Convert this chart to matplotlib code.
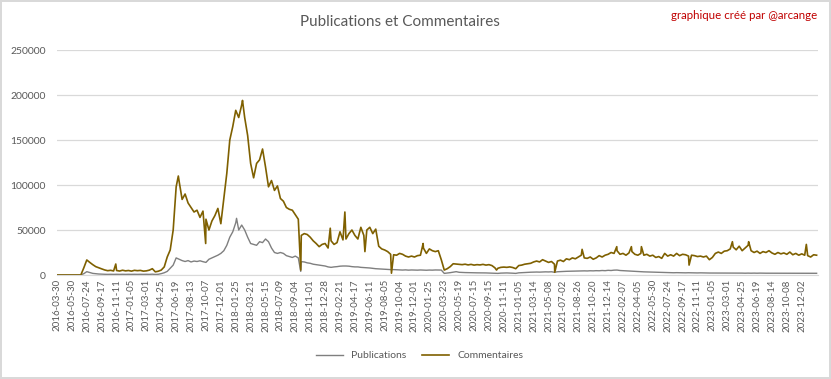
import matplotlib
matplotlib.use("Agg")
import matplotlib.pyplot as plt
import numpy as np

# libellés de l'axe des x (un tous les 55 jours de données)
etiquettes = [
    "2016-03-30", "2016-05-30", "2016-07-24", "2016-09-17", "2016-11-11",
    "2017-01-05", "2017-03-01", "2017-04-25", "2017-06-19", "2017-08-13", "2017-10-07", "2017-12-01",
    "2018-01-25", "2018-03-21", "2018-05-15", "2018-07-09", "2018-09-04", "2018-11-01", "2018-12-28",
    "2019-02-21", "2019-04-17", "2019-06-11", "2019-08-05", "2019-10-04", "2019-12-01",
    "2020-01-25", "2020-03-23", "2020-05-19", "2020-07-15", "2020-09-15", "2020-11-11",
    "2021-01-05", "2021-03-14", "2021-05-08", "2021-07-02", "2021-08-26", "2021-10-20", "2021-12-14",
    "2022-02-07", "2022-04-05", "2022-05-30", "2022-07-24", "2022-09-17", "2022-11-11",
    "2023-01-05", "2023-03-01", "2023-04-25", "2023-06-19", "2023-08-14", "2023-10-08", "2023-12-02",
]
pas_etiquette = 55
pas = 11  # un point relevé tous les 11 jours

commentaires = [
    0, 0, 0, 0, 0,
    0, 0, 0, 0, 8000,
    16700, 14000, 11500, 9300, 8000,
    6800, 5600, 4800, 5200, 4500,
    5000, 4400, 5300, 4600, 5000,
    4300, 5200, 4800, 5100, 4300,
    4600, 5400, 7000, 3500, 4200,
    5500, 9000, 20000, 27800, 50000,
    98000, 104000, 84000, 90000, 80000,
    75000, 70000, 72000, 64000, 71000,
    62000, 50000, 60000, 66000, 74000,
    57000, 85000, 113000, 150000, 165000,
    183000, 175000, 189000, 175000, 155000,
    124000, 108000, 124000, 128000, 140000,
    120000, 98000, 105000, 94000, 99000,
    85000, 82000, 75000, 73000, 72000,
    67000, 62000, 44000, 46000, 45000,
    42000, 38000, 35000, 31500, 34000,
    35000, 30000, 38000, 34000, 36000,
    48000, 39000, 40000, 46000, 50000,
    44000, 40000, 53000, 44000, 50000,
    53000, 46000, 51000, 32000, 29000,
    27800, 26000, 23000, 22500, 22000,
    24000, 23000, 21000, 20000, 21000,
    20000, 21500, 22000, 30000, 24000,
    29000, 27000, 26000, 27000, 17000,
    5500, 7000, 9300, 12500, 12200,
    12000, 11500, 12000, 11200, 11800,
    11000, 11500, 11200, 11800, 11000,
    11500, 10500, 8000, 7500, 8500,
    8800, 8500, 9000, 8300, 7000,
    10500, 11000, 12000, 12500, 13000,
    14500, 15500, 14500, 17000, 15500,
    14000, 15000, 12000, 15500, 16500,
    15000, 18000, 17000, 19000, 18000,
    20000, 22000, 19000, 18500, 20000,
    17500, 19000, 21500, 20000, 22000,
    23000, 25000, 24000, 27000, 23000,
    24000, 22000, 24500, 26000, 23000,
    22000, 24000, 22000, 23000, 21000,
    22000, 19500, 20500, 18500, 24000,
    21000, 22500, 21000, 24000, 21500,
    23000, 22500, 21000, 22000, 21500,
    20500, 21000, 20000, 21000, 17000,
    19500, 24000, 25500, 24000, 26500,
    27000, 29000, 31000, 28000, 32000,
    27000, 30000, 33000, 27000, 25000,
    26500, 24000, 26000, 25000, 27000,
    24500, 23000, 25000, 23500, 24500,
    23000, 25500, 22500, 24000, 22000,
    23500, 22000, 21500, 20000, 22500, 22000,
]

publications = [
    0, 0, 0, 0, 0,
    0, 0, 0, 0, 1500,
    3700, 2800, 1800, 1400, 1100,
    900, 800, 700, 800, 700,
    800, 700, 800, 700, 800,
    700, 800, 700, 800, 700,
    800, 700, 900, 600, 800,
    1500, 2500, 4000, 7500, 11000,
    19000, 17500, 16000, 15000, 16000,
    14500, 15500, 15000, 15800, 14800,
    14000, 17500, 19000, 20500, 22000,
    24000, 27000, 33000, 42000, 48000,
    58000, 50000, 55500, 50000, 42000,
    35000, 34000, 33000, 37000, 36000,
    40000, 37000, 30000, 25000, 24000,
    25000, 24000, 21500, 20500, 19500,
    21000, 19000, 14800, 14500, 13500,
    13000, 12000, 11500, 11000, 10500,
    10000, 9000, 8500, 9000, 9300,
    9800, 10000, 10000, 9800, 9300,
    9000, 9000, 8500, 8300, 8000,
    7800, 7400, 7000, 6800, 6700,
    6500, 6300, 6000, 6000, 5800,
    5600, 5500, 5700, 5400, 5600,
    5500, 5400, 5600, 5500, 5300,
    5500, 5400, 5600, 5500, 5500,
    1800, 2200, 2600, 3200, 3700,
    3000, 2800, 2700, 2600, 2600,
    2500, 2400, 2400, 2300, 2300,
    2200, 2200, 2000, 1800, 2100,
    2200, 2300, 2200, 2000, 1800,
    2400, 2600, 2800, 3000, 3100,
    3200, 3300, 3200, 3400, 3500,
    3400, 3600, 3000, 3600, 3800,
    4000, 4100, 4200, 4300, 4400,
    4400, 4500, 4600, 4500, 4700,
    4600, 4800, 4700, 5000, 4800,
    5200, 5000, 5400, 5500, 5000,
    4800, 4600, 4400, 4200, 4000,
    3800, 3700, 3500, 3400, 3200,
    3100, 3000, 2900, 2800, 2700,
    2600, 2600, 2500, 2600, 2500,
    2500, 2400, 2500, 2400, 2400,
    2300, 2400, 2300, 2300, 2200,
    2200, 2300, 2200, 2200, 2100,
    2200, 2100, 2100, 2200, 2100,
    2100, 2000, 2100, 2000, 2100,
    2000, 2100, 2000, 2000, 2000,
    2000, 1900, 2000, 2000, 1900,
    2000, 1900, 1900, 2000, 1900,
    1900, 2000, 1900, 1900, 2000, 1900,
]

# pics et creux d'un jour (jour, valeur)
pics_comm_jours = [217, 448, 549, 685, 900, 1009, 1063, 1137, 1235, 1352,
                   1623, 1838, 1939, 2067, 2121, 2158, 2334, 2494, 2554, 2767]
pics_comm_vals = [12200, 110000, 35000, 194000, 5500, 52000, 70000, 26000, 2000, 35000,
                  5500, 3000, 28500, 31500, 31500, 31500, 11000, 37000, 37000, 34000]
pics_pub_jours = [663, 900]
pics_pub_vals = [63000, 4000]


def serie(valeurs, pics_j, pics_v):
    x = np.concatenate([np.arange(len(valeurs)) * pas, pics_j])
    y = np.concatenate([valeurs, pics_v])
    ordre = np.argsort(x, kind="stable")
    return x[ordre], y[ordre]


gris_txt = "#595959"
fig = plt.figure(figsize=(8.31, 3.79), dpi=100)
fig.patch.set_edgecolor("#D9D9D9")
fig.patch.set_linewidth(1.5)
plt.rcParams["font.family"] = ["Lato", "DejaVu Sans"]

ax = fig.add_axes([0.0686, 0.2744, 0.9154, 0.5936])

xp, yp = serie(publications, pics_pub_jours, pics_pub_vals)
xc, yc = serie(commentaires, pics_comm_jours, pics_comm_vals)
ax.plot(xp, yp, color="#7F7F7F", lw=1.0, label="Publications")
ax.plot(xc, yc, color="#7F6000", lw=1.2, label="Commentaires")

ax.set_ylim(0, 250000)
ax.set_yticks(np.arange(0, 250001, 50000))
ax.set_xlim(0, 2809)
ax.set_xticks(np.arange(len(etiquettes)) * pas_etiquette)
ax.set_xticklabels(etiquettes, rotation=90, fontsize=7, color=gris_txt)
ax.tick_params(axis="y", labelsize=7.5, labelcolor=gris_txt, length=0, pad=8)
ax.tick_params(axis="x", length=0, pad=3)
ax.grid(axis="y", color="#D9D9D9", lw=0.9)
ax.set_axisbelow(True)
for s in ["top", "right", "left"]:
    ax.spines[s].set_visible(False)
ax.spines["bottom"].set_color("#D9D9D9")

fig.text(0.481, 0.942, "Publications et Commentaires", ha="center", va="center",
         fontsize=11, color=gris_txt)
fig.text(0.984, 0.958, "graphique créé par @arcange", ha="right", va="center",
         fontsize=8.3, color="#C00000")

fig.legend(loc="center", bbox_to_anchor=(0.505, 0.062), ncol=2, frameon=False,
           fontsize=7.5, labelcolor=gris_txt, handlelength=2.6, columnspacing=1.5)

fig.savefig("out.png", dpi=100, edgecolor=fig.get_edgecolor())
